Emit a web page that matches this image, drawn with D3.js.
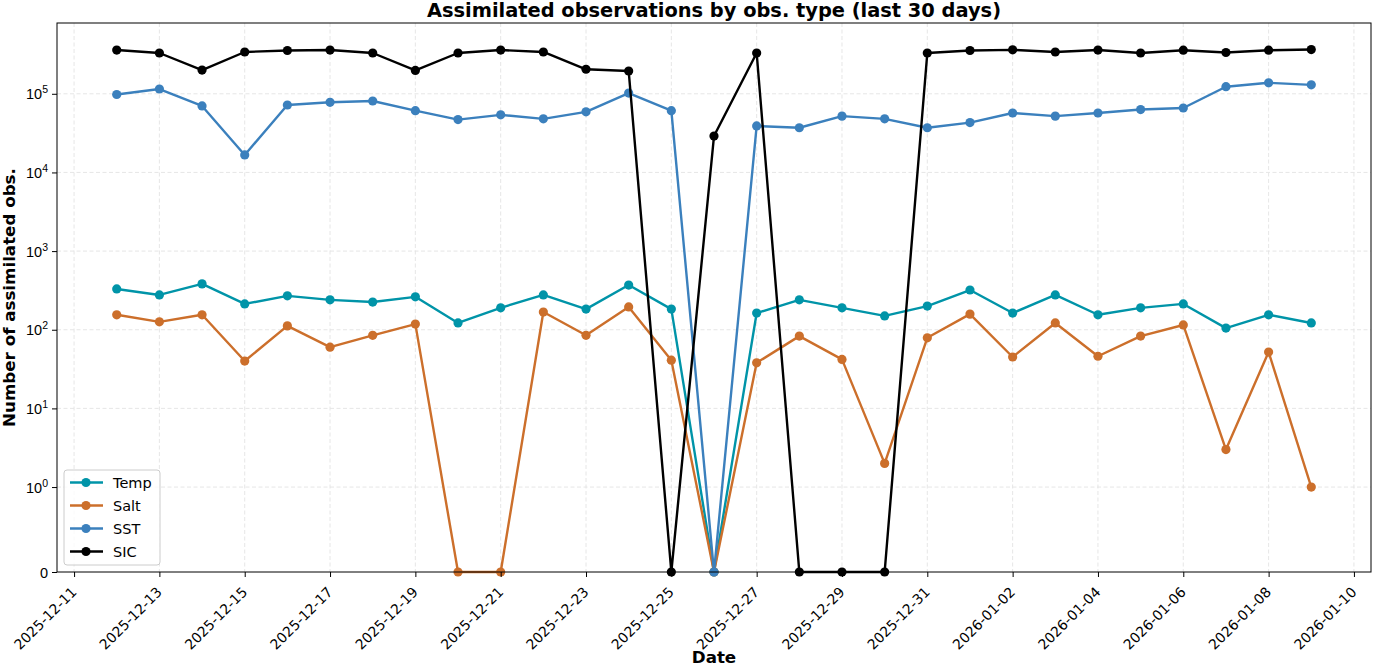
<!DOCTYPE html>
<html>
<head>
<meta charset="utf-8">
<script src="https://cdn.jsdelivr.net/npm/d3@7"></script>
<style>
  html, body { margin: 0; padding: 0; background: #fff; }
  svg { display: block; font-family: "DejaVu Sans", sans-serif; }
</style>
</head>
<body>
<main></main>
<script>
const width = 1373;
const height = 667;

const dates = [
  "2025-12-12", "2025-12-13", "2025-12-14", "2025-12-15", "2025-12-16",
  "2025-12-17", "2025-12-18", "2025-12-19", "2025-12-20", "2025-12-21",
  "2025-12-22", "2025-12-23", "2025-12-24", "2025-12-25", "2025-12-26",
  "2025-12-27", "2025-12-28", "2025-12-29", "2025-12-30", "2025-12-31",
  "2026-01-01", "2026-01-02", "2026-01-03", "2026-01-04", "2026-01-05",
  "2026-01-06", "2026-01-07", "2026-01-08", "2026-01-09",
];

const temp = [
  330, 277, 383, 213, 270, 240, 225, 262, 122, 190,
  277, 183, 370, 183, 0, 163, 240, 190, 150, 200,
  320, 163, 277, 155, 190, 213, 105, 155, 122,
];
const salt = [
  155, 126, 155, 40, 112, 60, 85, 118, 0, 0,
  168, 85, 195, 41, 0, 38, 83, 42, 2, 79,
  158, 45, 122, 46, 83, 115, 3, 52, 1,
];
const sst = [
  98000, 115000, 70000, 16700, 72000, 78000, 81000, 61000, 47000, 54000,
  48000, 59000, 102000, 61000, 0, 39000, 37000, 52000, 48000, 37000,
  43000, 57000, 52000, 57000, 63000, 66000, 123000, 138000, 130000,
];
const sic = [
  360000, 330000, 200000, 340000, 355000, 360000, 330000, 198000, 330000, 360000,
  340000, 205000, 195000, 0, 29000, 330000, 0, 0, 0, 330000,
  355000, 362000, 340000, 360000, 330000, 358000, 335000, 358000, 365000,
];

const seriesNames = ["Temp", "Salt", "SST", "SIC"];
const seriesColors = ["#0094a8", "#cc6f2b", "#3b80bd", "#000000"];

const xTickLabels = [
  "2025-12-11", "2025-12-13", "2025-12-15", "2025-12-17", "2025-12-19",
  "2025-12-21", "2025-12-23", "2025-12-25", "2025-12-27", "2025-12-29",
  "2025-12-31", "2026-01-02", "2026-01-04", "2026-01-06", "2026-01-08",
  "2026-01-10",
];
const yTickValues = [0, 1, 10, 100, 1000, 10000, 100000];

const margin = { left: 57, right: 2, top: 23, bottom: 95 };
const plotW = width - margin.left - margin.right;
const plotH = height - margin.top - margin.bottom;

// symlog like matplotlib (linthresh 1)
const linScale = 1.08;
const symlog = (v) => (v <= 1 ? v * linScale : linScale + Math.log10(v));

const parse = d3.utcParse("%Y-%m-%d");
const first = parse(dates[0]);
const last = parse(dates[dates.length - 1]);
const pad = (last - first) * 0.05;

const x = d3
  .scaleUtc()
  .domain([new Date(+first - pad), new Date(+last + pad)])
  .range([0, plotW]);
const y = d3.scaleLinear().domain([0, 6.98]).range([plotH, 0]);
const yPos = (v) => y(symlog(v));

const svg = d3
  .select("main")
  .append("svg")
  .attr("width", width)
  .attr("height", height)
  .attr("viewBox", `0 0 ${width} ${height}`);

const plot = svg
  .append("g")
  .attr("transform", `translate(${margin.left}, ${margin.top})`);

// grid
const grid = plot.append("g").attr("class", "grid");
grid
  .selectAll("line.gx")
  .data(xTickLabels)
  .enter()
  .append("line")
  .attr("x1", (d) => x(parse(d)))
  .attr("x2", (d) => x(parse(d)))
  .attr("y1", 0)
  .attr("y2", plotH)
  .attr("stroke", "#e3e3e3")
  .attr("stroke-dasharray", "4,2.5")
  .attr("stroke-width", 0.9);
grid
  .selectAll("line.gy")
  .data(yTickValues.slice(1))
  .enter()
  .append("line")
  .attr("x1", 0)
  .attr("x2", plotW)
  .attr("y1", (d) => yPos(d))
  .attr("y2", (d) => yPos(d))
  .attr("stroke", "#e3e3e3")
  .attr("stroke-dasharray", "4,2.5")
  .attr("stroke-width", 0.9);

// series
const allSeries = [temp, salt, sst, sic];
const line = d3
  .line()
  .x((d, i) => x(parse(dates[i])))
  .y((d) => yPos(d));

allSeries.forEach((values, k) => {
  const g = plot.append("g").attr("class", "series");
  g.append("path")
    .datum(values)
    .attr("d", line)
    .attr("fill", "none")
    .attr("stroke", seriesColors[k])
    .attr("stroke-width", 2.4)
    .attr("stroke-linejoin", "round");
  g.selectAll("circle")
    .data(values)
    .enter()
    .append("circle")
    .attr("cx", (d, i) => x(parse(dates[i])))
    .attr("cy", (d) => yPos(d))
    .attr("r", 4.6)
    .attr("fill", seriesColors[k]);
});

// frame
plot
  .append("rect")
  .attr("width", plotW)
  .attr("height", plotH)
  .attr("fill", "none")
  .attr("stroke", "#000")
  .attr("stroke-width", 1);

// x axis
const xAxis = d3
  .axisBottom(x)
  .tickValues(xTickLabels.map(parse))
  .tickFormat(d3.utcFormat("%Y-%m-%d"))
  .tickSize(5)
  .tickSizeOuter(0);
const gx = plot
  .append("g")
  .attr("transform", `translate(0, ${plotH})`)
  .call(xAxis);
gx.select(".domain").remove();
gx.selectAll(".tick line").attr("stroke", "#000");
gx.selectAll(".tick text")
  .attr("font-size", 14)
  .attr("font-family", "DejaVu Sans")
  .attr("fill", "#000")
  .attr("text-anchor", "end")
  .attr("y", 0)
  .attr("dy", 0)
  .attr("transform", "translate(3, 21) rotate(-45)");

// y axis
const yAxis = d3
  .axisLeft(y)
  .tickValues(yTickValues.map(symlog))
  .tickFormat("")
  .tickSize(5)
  .tickSizeOuter(0);
const gy = plot.append("g").call(yAxis);
gy.select(".domain").remove();
gy.selectAll(".tick line").attr("stroke", "#000");
gy.selectAll(".tick")
  .data(yTickValues)
  .each(function (d) {
    const t = d3
      .select(this)
      .append("text")
      .attr("x", -9)
      .attr("y", 5)
      .attr("text-anchor", "end")
      .attr("font-size", 14.5)
      .attr("fill", "#000");
    if (d === 0) {
      t.text("0");
    } else {
      const e = Math.round(Math.log10(d));
      t.append("tspan").text("10");
      t.append("tspan")
        .attr("font-size", 10.5)
        .attr("dy", -6)
        .text(String(e));
    }
  });

// title and labels
svg
  .append("text")
  .attr("x", margin.left + plotW / 2)
  .attr("y", 17)
  .attr("text-anchor", "middle")
  .attr("font-size", 19.4)
  .attr("font-weight", "bold")
  .text("Assimilated observations by obs. type (last 30 days)");

svg
  .append("text")
  .attr("x", margin.left + plotW / 2)
  .attr("y", 663)
  .attr("text-anchor", "middle")
  .attr("font-size", 16.7)
  .attr("font-weight", "bold")
  .text("Date");

svg
  .append("text")
  .attr("transform", `translate(15, ${margin.top + plotH / 2}) rotate(-90)`)
  .attr("text-anchor", "middle")
  .attr("font-size", 16.7)
  .attr("font-weight", "bold")
  .text("Number of assimilated obs.");

// legend
const legend = svg.append("g").attr("transform", "translate(64, 470)");
legend
  .append("rect")
  .attr("width", 96)
  .attr("height", 95)
  .attr("rx", 3)
  .attr("fill", "#fff")
  .attr("fill-opacity", 0.8)
  .attr("stroke", "#cccccc");
const items = legend
  .selectAll("g.item")
  .data(seriesNames)
  .enter()
  .append("g")
  .attr("transform", (_, i) => `translate(0, ${12.5 + i * 23})`);
items
  .append("line")
  .attr("x1", 6)
  .attr("x2", 39)
  .attr("stroke", (_, i) => seriesColors[i])
  .attr("stroke-width", 2.4);
items
  .append("circle")
  .attr("cx", 22)
  .attr("r", 4.6)
  .attr("fill", (_, i) => seriesColors[i]);
items
  .append("text")
  .attr("x", 49)
  .attr("y", 5.5)
  .attr("font-size", 14.5)
  .attr("fill", "#000")
  .text((d) => d);
</script>
</body>
</html>
